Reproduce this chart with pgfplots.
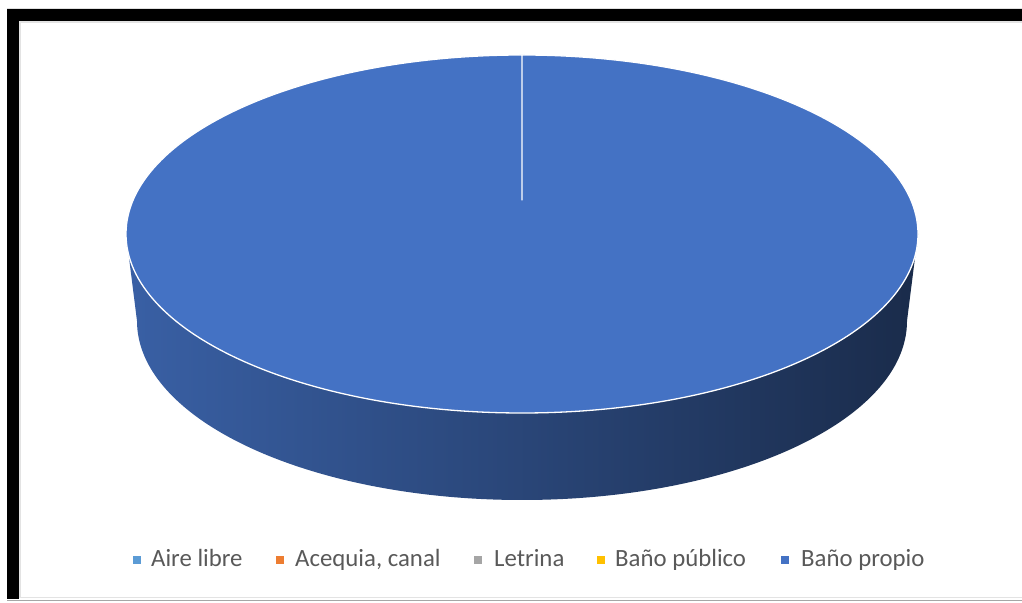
\documentclass[border=0pt]{standalone}
\usepackage{pgfplots}
\pgfplotsset{compat=1.18}
\usepackage{pgfplotstable}
\usepackage{fontspec}
\setmainfont{Carlito}
\definecolor{slice0}{HTML}{5B9BD5}
\definecolor{slice1}{HTML}{ED7D31}
\definecolor{slice2}{HTML}{A5A5A5}
\definecolor{slice3}{HTML}{FFC000}
\definecolor{slice4}{HTML}{4472C4}
\definecolor{legtext}{HTML}{595959}

\pgfplotstableread[col sep=semicolon]{
label;value;lx;tx
Aire libre;0;137;151
Acequia, canal;0;280;295
Letrina;0;478;494
Baño público;0;601;615
Baño propio;100;785;801
}\piedata

\begin{document}
\begin{tikzpicture}
\useasboundingbox (0,0) rectangle (1022pt,602pt);
% frame
\fill[gray!25] (7pt,592.5pt) rectangle (1022pt,593.5pt);
\fill[black] (7pt,581pt) rectangle (1022pt,592.5pt);
\fill[black] (7pt,3pt) rectangle (18.5pt,592.5pt);
\fill[gray!22] (18.5pt,4pt) rectangle (21pt,581pt);
\fill[gray!22] (18.5pt,579pt) rectangle (1022pt,581pt);
\fill[gray!22] (18.5pt,4pt) rectangle (1022pt,5.5pt);
\fill[gray!70] (7pt,1pt) rectangle (1022pt,2pt);

% total
\pgfmathsetmacro\total{0}
\pgfplotsforeachungrouped \i in {0,...,4}{%
  \pgfplotstablegetelem{\i}{value}\of\piedata
  \pgfmathsetmacro\total{\total+\pgfplotsretval}%
}

\begin{axis}[at={(0,0)}, anchor=south west, scale only axis,
  width=1022pt, height=602pt, xmin=0, xmax=1022, ymin=0, ymax=602,
  hide axis, clip=false]
% sides
\pgfmathsetmacro\cur{90}
\pgfplotsforeachungrouped \i in {0,...,4}{%
  \pgfplotstablegetelem{\i}{value}\of\piedata
  \pgfmathsetmacro\sp{360*(\pgfplotsretval/\total)}%
  \pgfmathsetmacro\aone{\cur}%
  \pgfmathsetmacro\atwo{\cur-\sp}%
  \pgfmathsetmacro\hi{min(\aone,0)}%
  \pgfmathsetmacro\lo{max(\atwo,-180)}%
  \ifdim\sp pt>0pt
    \ifdim\lo pt<\hi pt
      \pgfmathsetmacro\xa{522+396*cos(\hi)}%
      \pgfmathsetmacro\ya{368+179*sin(\hi)}%
      \pgfmathsetmacro\xb{522+385*cos(\lo)}%
      \pgfmathsetmacro\yb{281+179*sin(\lo)}%
      \edef\temp{\noexpand\shade[left color=slice\i!84!black, middle color=slice\i!57!black, right color=slice\i!38!black]
        (axis cs:\xa,\ya) arc[start angle=\hi, end angle=\lo, x radius=396, y radius=179]
        -- (axis cs:\xb,\yb) arc[start angle=\lo, end angle=\hi, x radius=385, y radius=179] -- cycle;}%
      \temp
    \fi
  \fi
  \let\cur\atwo
}
% top faces
\pgfmathsetmacro\cur{90}
\pgfplotsforeachungrouped \i in {0,...,4}{%
  \pgfplotstablegetelem{\i}{value}\of\piedata
  \pgfmathsetmacro\sp{360*(\pgfplotsretval/\total)}%
  \pgfmathsetmacro\aone{\cur}%
  \pgfmathsetmacro\atwo{\cur-\sp}%
  \ifdim\sp pt>0pt
    \pgfmathsetmacro\xa{522+396*cos(\aone)}%
    \pgfmathsetmacro\ya{368+179*sin(\aone)}%
    \edef\temp{\noexpand\filldraw[fill=slice\i, draw=white, line width=1.3pt, line join=round]
      (axis cs:522,402) -- (axis cs:\xa,\ya) arc[start angle=\aone, end angle=\atwo, x radius=396, y radius=179] -- cycle;}%
    \temp
  \fi
  \let\cur\atwo
}
% legend
\pgfplotsforeachungrouped \i in {0,...,4}{%
  \pgfplotstablegetelem{\i}{lx}\of\piedata \let\lx\pgfplotsretval
  \pgfplotstablegetelem{\i}{tx}\of\piedata \let\tx\pgfplotsretval
  \pgfplotstablegetelem{\i}{label}\of\piedata \let\lab\pgfplotsretval
  \edef\temp{\noexpand\fill[slice\i] (axis cs:\lx-4,38) rectangle (axis cs:\lx+4,46);
    \noexpand\node[anchor=base west, inner sep=0pt, text=legtext, font=\noexpand\fontsize{24.8}{28}\noexpand\selectfont] at (axis cs:\tx,35) {\expandafter\unexpanded\expandafter{\lab}};}%
  \temp
}
\end{axis}
\end{tikzpicture}
\end{document}
